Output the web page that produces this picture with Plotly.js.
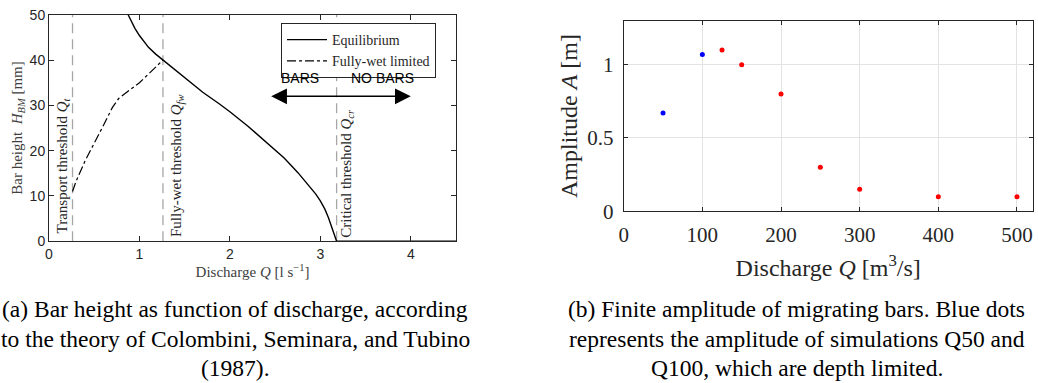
<!DOCTYPE html>
<html>
<head>
<meta charset="utf-8">
<script src="https://cdn.plot.ly/plotly-3.0.1.min.js"></script>
<style>
html,body{margin:0;padding:0;background:#fff;}
#chart{width:1038px;height:383px;}
</style>
</head>
<body>
<div id="chart"></div>
<script>
// ---- Data (a): bar height vs discharge ----
var eqQ = [0.875, 0.9, 0.95, 1.0, 1.05, 1.1, 1.18, 1.26, 1.4, 1.55, 1.7, 1.885, 2.0, 2.2, 2.4, 2.6, 2.75, 2.85, 2.95, 3.0, 3.05, 3.09, 3.12, 3.145, 3.165, 3.18, 4.5];
var eqH = [50, 48.9, 47.0, 45.4, 44.0, 42.8, 41.3, 40, 37.7, 35.2, 32.9, 30.3, 28.6, 25.4, 22.0, 18.4, 15.2, 12.9, 10.4, 8.9, 7.1, 5.2, 3.6, 2.2, 1.0, 0, 0];
var fwQ = [0.26, 0.3, 0.4, 0.5, 0.6, 0.7, 0.77, 0.9, 1.0, 1.1, 1.2, 1.26];
var fwH = [11, 13.3, 17.8, 21.5, 25.5, 29.5, 31.5, 33.5, 35, 36.9, 38.8, 40];
var thresholdQ = [0.26, 1.26, 3.18];
var thresholdLabels = ["Transport threshold <i>Q</i><sub><i>t</i></sub>",
                       "Fully-wet threshold <i>Q</i><sub><i>fw</i></sub>",
                       "Critical threshold <i>Q</i><sub><i>cr</i></sub>"];
var seriesNamesA = ["Equilibrium", "Fully-wet limited"];

// ---- Data (b): finite amplitude ----
var blueQ = [50, 100];
var blueA = [0.67, 1.07];
var redQ = [125, 150, 200, 250, 300, 400, 500];
var redA = [1.10, 1.00, 0.80, 0.30, 0.15, 0.10, 0.10];

var captionA = ["(a) Bar height as function of discharge, according",
                "to the theory of Colombini, Seminara, and Tubino",
                "(1987)."];
var captionB = ["(b) Finite amplitude of migrating bars. Blue dots",
                "represents the amplitude of simulations Q50 and",
                "Q100, which are depth limited."];

var W = 1038, H = 383;
function px(x){return x / W;}
function py(y){return 1 - y / H;}

var serif = "Liberation Serif, Times New Roman, serif";
var sans = "Liberation Sans, Arial, sans-serif";
var axc = "#262626";

var traces = [
  {x: eqQ, y: eqH, type: "scatter", mode: "lines", name: seriesNamesA[0],
   line: {color: "#000", width: 1.4}, xaxis: "x", yaxis: "y"},
  {x: fwQ, y: fwH, type: "scatter", mode: "lines", name: seriesNamesA[1],
   line: {color: "#000", width: 1.2, dash: "dashdot"}, xaxis: "x", yaxis: "y"},
  {x: blueQ, y: blueA, type: "scatter", mode: "markers", showlegend: false,
   marker: {color: "#0000ff", size: 5}, xaxis: "x2", yaxis: "y2"},
  {x: redQ, y: redA, type: "scatter", mode: "markers", showlegend: false,
   marker: {color: "#ff0000", size: 5}, xaxis: "x2", yaxis: "y2"}
];

var shapes = thresholdQ.map(function(q){
  return {type: "line", xref: "x", yref: "y", x0: q, x1: q, y0: 0, y1: 50,
          line: {color: "#a6a6a6", width: 1.3, dash: "10px,6px"}, layer: "below"};
});

var annotations = [];
var labelPos = [[0.158, 16.8], [1.408, 16.7], [3.30, 15.0]];
thresholdLabels.forEach(function(t, i){
  annotations.push({xref: "x", yref: "y", x: labelPos[i][0], y: labelPos[i][1],
    text: t, showarrow: false, textangle: -90,
    font: {family: serif, size: 15, color: axc}});
});
// double arrow BARS / NO BARS
annotations.push({xref: "x", yref: "y", axref: "x", ayref: "y",
  x: 4.0, y: 32, ax: 2.44, ay: 32, text: "", showarrow: true,
  arrowhead: 2, startarrowhead: 2, arrowside: "end+start",
  arrowsize: 2.1, startarrowsize: 2.1, arrowwidth: 1.5, arrowcolor: "#000"});
annotations.push({xref: "x", yref: "y", x: 2.77, y: 36.0, text: "BARS", showarrow: false,
  font: {family: sans, size: 14, color: "#000"}});
annotations.push({xref: "x", yref: "y", x: 3.69, y: 36.0, text: "NO BARS", showarrow: false,
  font: {family: sans, size: 14, color: "#000"}});

// captions
var capY = [309, 338.5, 367.5];
captionA.forEach(function(t, i){
  annotations.push({xref: "paper", yref: "paper", x: px(235), y: py(capY[i]),
    xanchor: "center", yanchor: "middle", text: t, showarrow: false,
    font: {family: serif, size: 23.5, color: "#000"}});
});
captionB.forEach(function(t, i){
  annotations.push({xref: "paper", yref: "paper", x: px(796.5), y: py(capY[i]),
    xanchor: "center", yanchor: "middle", text: t, showarrow: false,
    font: {family: serif, size: 23.5, color: "#000"}});
});

var layout = {
  width: W, height: H,
  margin: {l: 0, r: 0, t: 0, b: 0},
  paper_bgcolor: "#fff", plot_bgcolor: "#fff",
  showlegend: true,
  legend: {x: px(281), y: py(23), xanchor: "left", yanchor: "top",
    bordercolor: axc, borderwidth: 1, bgcolor: "#fff",
    font: {family: serif, size: 14, color: axc}, itemwidth: 40},
  xaxis: {domain: [px(49), px(456)], range: [0, 4.5], anchor: "y",
    tickvals: [0, 1, 2, 3, 4], ticks: "inside", ticklen: 5, tickcolor: axc,
    showline: true, linecolor: axc, linewidth: 1, mirror: "ticks",
    showgrid: false, zeroline: false,
    tickfont: {family: sans, size: 14, color: axc},
    title: {text: "Discharge <i>Q</i> [l s<sup>−1</sup>]", standoff: 0,
      font: {family: serif, size: 15, color: "#404040"}}},
  yaxis: {domain: [py(241.3), py(14.7)], range: [0, 50], anchor: "x",
    tickvals: [0, 10, 20, 30, 40, 50], ticks: "inside", ticklen: 5, tickcolor: axc,
    showline: true, linecolor: axc, linewidth: 1, mirror: "ticks",
    showgrid: false, zeroline: false,
    tickfont: {family: sans, size: 14, color: axc},
    title: {text: "Bar height  <i>H</i><sub><i>BM</i></sub> [mm]", standoff: 3,
      font: {family: serif, size: 15, color: "#404040"}}},
  xaxis2: {domain: [px(623.7), px(1032.7)], range: [0, 520], anchor: "y2",
    tickvals: [0, 100, 200, 300, 400, 500], ticks: "inside", ticklen: 4, tickcolor: axc,
    showline: true, linecolor: axc, linewidth: 1, mirror: "ticks",
    showgrid: true, gridcolor: "#e3e3e3", zeroline: false, ticklabelstandoff: 4,
    tickfont: {family: serif, size: 21, color: axc},
    title: {text: "Discharge <i>Q</i> [m<sup>3</sup>/s]", standoff: 13,
      font: {family: serif, size: 24, color: axc}}},
  yaxis2: {domain: [py(211.3), py(20.7)], range: [0, 1.3], anchor: "x2",
    tickvals: [0, 0.5, 1], ticktext: ["0", "0.5", "1"], ticks: "inside", ticklen: 4, tickcolor: axc,
    showline: true, linecolor: axc, linewidth: 1, mirror: "ticks",
    showgrid: true, gridcolor: "#e3e3e3", zeroline: false, ticklabelstandoff: 5,
    tickfont: {family: serif, size: 21, color: axc},
    title: {text: "Amplitude <i>A</i> [m]", standoff: 2,
      font: {family: serif, size: 24, color: axc}}},
  shapes: shapes,
  annotations: annotations
};

Plotly.newPlot("chart", traces, layout, {displayModeBar: false, staticPlot: true});
</script>
</body>
</html>
